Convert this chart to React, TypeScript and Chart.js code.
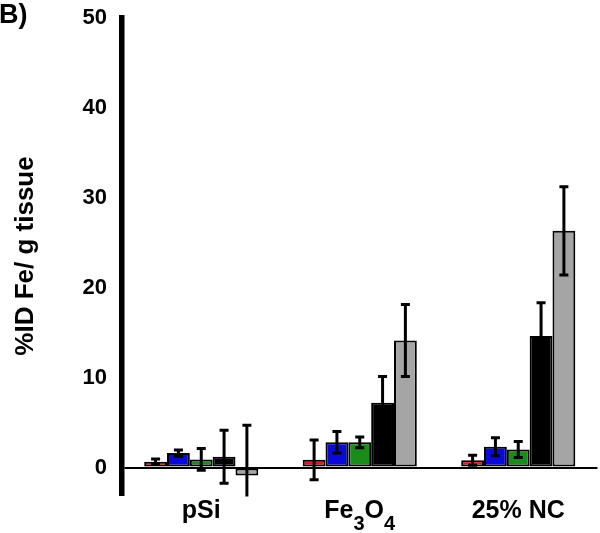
import React, { useEffect, useRef } from "react";
import { Chart, registerables } from "chart.js";

Chart.register(...registerables);

const categories = ["pSi", "Fe3O4", "25% NC"];
const seriesRed = [0.65, 0.85, 0.8];
const seriesBlue = [1.6, 2.8, 2.3];
const seriesGreen = [0.9, 2.8, 2.0];
const seriesBlack = [1.2, 7.2, 14.6];
const seriesGray = [-0.9, 14.1, 26.3];
const errRed = [0.3, 2.2, 0.55];
const errBlue = [0.35, 1.2, 1.0];
const errGreen = [1.2, 0.6, 0.9];
const errBlack = [2.95, 2.9, 3.7];
const errGray = [5.6, 4.0, 4.9];
const yTicks = [0, 10, 20, 30, 40, 50];

const FONT = "'Liberation Sans', Arial, Helvetica, sans-serif";

const errorBarPlugin = {
  id: "errorBars",
  afterDatasetsDraw(chart: any) {
    const { ctx, chartArea } = chart;
    const y = chart.scales.y;
    ctx.save();
    ctx.beginPath();
    ctx.rect(chartArea.left, chartArea.top - 10, chartArea.right - chartArea.left, chartArea.bottom - chartArea.top + 12);
    ctx.clip();
    ctx.strokeStyle = "#000";
    chart.data.datasets.forEach((ds: any, di: number) => {
      const meta = chart.getDatasetMeta(di);
      meta.data.forEach((bar: any, i: number) => {
        const v = ds.data[i];
        const e = ds.errors[i];
        const x = bar.x;
        const yt = y.getPixelForValue(v + e);
        const yb = y.getPixelForValue(v - e);
        ctx.lineWidth = 3;
        ctx.beginPath();
        ctx.moveTo(x, yt);
        ctx.lineTo(x, yb);
        ctx.stroke();
        ctx.beginPath();
        ctx.moveTo(x - 4.5, yt);
        ctx.lineTo(x + 4.5, yt);
        ctx.moveTo(x - 4.5, yb);
        ctx.lineTo(x + 4.5, yb);
        ctx.stroke();
      });
    });
    ctx.restore();
  },
};

const labelPlugin = {
  id: "catLabels",
  afterDraw(chart: any) {
    const { ctx } = chart;
    const xs = chart.scales.x;
    ctx.save();
    ctx.fillStyle = "#000";
    ctx.textBaseline = "alphabetic";
    ctx.textAlign = "left";
    const base = 518;
    const main = `bold 25px ${FONT}`;
    const sub = `bold 20px ${FONT}`;
    categories.forEach((c, i) => {
      const cx = xs.getPixelForValue(i);
      let parts: [string, boolean][];
      if (c === "Fe3O4") parts = [["Fe", false], ["3", true], ["O", false], ["4", true]];
      else parts = [[c, false]];
      let total = 0;
      const widths = parts.map(([t, s]) => {
        ctx.font = s ? sub : main;
        const w = ctx.measureText(t).width;
        total += w;
        return w;
      });
      let x = cx - total / 2;
      parts.forEach(([t, s], k) => {
        ctx.font = s ? sub : main;
        ctx.fillText(t, x, s ? base + 12 : base);
        x += widths[k];
      });
    });
    ctx.font = `bold 27px ${FONT}`;
    ctx.fillText("B)", -1, 23);
    ctx.restore();
  },
};

export default function App() {
  const ref = useRef<HTMLCanvasElement>(null);
  useEffect(() => {
    if (!ref.current) return;
    const mk = (label: string, data: number[], errors: number[], color: string) => ({
      label,
      data,
      errors,
      backgroundColor: color,
      borderColor: "#000",
      borderWidth: 2,
      borderSkipped: false,
      categoryPercentage: 0.72,
      barPercentage: 1,
    });
    const chart = new Chart(ref.current, {
      type: "bar",
      data: {
        labels: categories,
        datasets: [
          mk("Red", seriesRed, errRed, "#e8161c"),
          mk("Blue", seriesBlue, errBlue, "#0a0ad8"),
          mk("Green", seriesGreen, errGreen, "#1a8c1a"),
          mk("Black", seriesBlack, errBlack, "#000000"),
          mk("Gray", seriesGray, errGray, "#a5a5a5"),
        ] as any,
      },
      options: {
        animation: false,
        responsive: true,
        maintainAspectRatio: false,
        layout: { padding: { left: 0, right: 2.5, top: 17.5, bottom: 0 } },
        plugins: { legend: { display: false }, tooltip: { enabled: false } },
        scales: {
          x: {
            type: "category",
            ticks: { display: false },
            grid: { display: false },
            border: { display: false },
            afterFit: (s: any) => { s.height = 38.5; s.paddingLeft = 0; s.paddingRight = 0; },
          },
          y: {
            min: -3,
            max: 50,
            afterBuildTicks: (s: any) => { s.ticks = yTicks.map((v) => ({ value: v })); },
            afterFit: (s: any) => { s.width = 122; s.paddingTop = 0; s.paddingBottom = 0; },
            ticks: {
              color: "#000",
              padding: 15,
              font: { family: FONT, size: 22, weight: "bold" },
            },
            grid: {
              drawTicks: false,
              color: (c: any) => (c.tick && c.tick.value === 0 ? "#000" : "rgba(0,0,0,0)"),
              lineWidth: 2,
            },
            border: { display: true, color: "#000", width: 5.5 },
            title: {
              display: true,
              text: "%ID Fe/ g tissue",
              color: "#000",
              font: { family: FONT, size: 26, weight: "bold" },
              padding: { top: 10, bottom: 0 },
            },
          },
        },
      } as any,
      plugins: [errorBarPlugin, labelPlugin],
    });
    return () => chart.destroy();
  }, []);
  return (
    <div style={{ position: "fixed", left: 0, top: 0, width: 600, height: 533, background: "#fff" }}>
      <canvas ref={ref} />
    </div>
  );
}
